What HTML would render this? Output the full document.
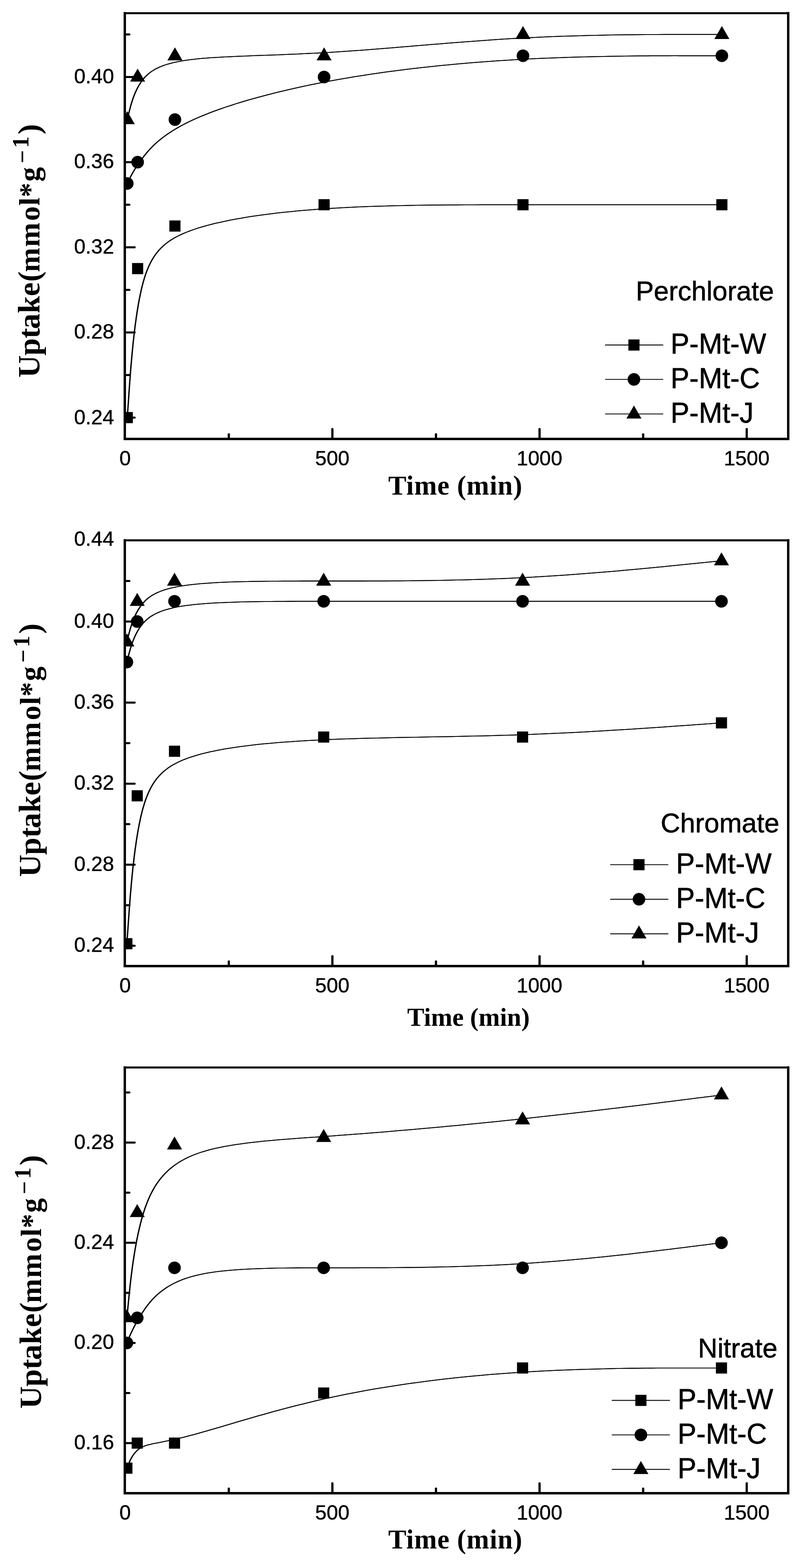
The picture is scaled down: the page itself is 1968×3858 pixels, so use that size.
<!DOCTYPE html>
<html lang="en"><head><meta charset="utf-8"><title>Uptake kinetics</title>
<style>html,body{margin:0;padding:0;background:#fff}body{width:1968px;height:3858px;overflow:hidden}svg{display:block}.tk{font-family:"Liberation Sans",Arial,sans-serif;font-size:50.5px;fill:#000;stroke:#000;stroke-width:0.6px}.lg{font-family:"Liberation Sans",Arial,sans-serif;font-size:69.5px;fill:#000;stroke:#000;stroke-width:0.8px}.xt{font-family:"Liberation Serif","Times New Roman",serif;font-weight:bold;fill:#000}.yt{font-family:"Liberation Serif","Times New Roman",serif;font-weight:bold;font-size:79.0px;fill:#000}</style></head><body>
<svg width="1968" height="3858" viewBox="0 0 1968 3858">
<rect width="1968" height="3858" fill="#fff"/>
<g id="chart1">
<g fill="none" stroke="#000" stroke-width="2.05" stroke-linejoin="round" stroke-linecap="round">
<path d="M313.1,1027.5 L313.1,1027.5 L313.1,1027.5 L313.1,1027.4 L313.1,1027.2 L313.1,1026.9 L313.2,1026.5 L313.2,1026.0 L313.3,1025.2 L313.3,1024.3 L313.4,1023.1 L313.5,1021.6 L313.6,1019.9 L313.8,1017.8 L313.9,1015.4 L314.1,1012.6 L314.4,1009.4 L314.6,1005.8 L314.9,1001.7 L315.2,997.2 L315.6,992.1 L315.9,986.6 L316.4,980.4 L316.8,973.7 L317.3,966.4 L317.9,958.4 L318.5,949.9 L319.1,940.8 L319.9,931.2 L320.6,921.2 L321.4,910.7 L322.3,899.9 L323.3,888.8 L324.3,877.4 L325.4,865.8 L326.5,854.0 L327.7,842.0 L329.1,830.0 L330.5,817.9 L331.9,805.8 L333.5,793.8 L335.2,781.8 L336.9,770.0 L338.8,758.4 L340.7,747.0 L342.8,735.8 L345.0,725.0 L347.2,714.6 L349.6,704.5 L352.1,694.9 L354.8,685.8 L357.5,677.0 L360.5,668.7 L363.6,660.8 L366.9,653.2 L370.4,646.1 L374.1,639.2 L378.1,632.7 L382.3,626.5 L386.8,620.6 L391.6,615.0 L396.6,609.7 L402.0,604.7 L407.7,599.8 L413.7,595.2 L420.1,590.9 L426.9,586.7 L434.1,582.7 L441.6,578.8 L449.6,575.2 L458.0,571.6 L466.9,568.2 L476.2,564.9 L486.0,561.6 L496.2,558.5 L507.0,555.4 L518.1,552.5 L529.7,549.6 L541.7,546.9 L554.1,544.2 L567.0,541.6 L580.2,539.1 L593.8,536.7 L607.8,534.3 L622.1,532.1 L636.7,530.0 L651.7,527.9 L667.1,526.0 L682.7,524.1 L698.6,522.3 L714.8,520.7 L731.3,519.1 L748.1,517.6 L765.1,516.2 L782.4,514.8 L799.9,513.6 L817.7,512.5 L835.6,511.4 L853.7,510.5 L872.1,509.6 L890.6,508.8 L909.3,508.1 L928.2,507.4 L947.2,506.9 L966.4,506.3 L985.7,505.9 L1005.2,505.5 L1024.7,505.1 L1044.4,504.8 L1064.2,504.6 L1084.1,504.4 L1104.1,504.2 L1124.2,504.1 L1144.3,504.0 L1164.5,503.9 L1184.8,503.8 L1205.1,503.8 L1225.4,503.8 L1245.8,503.8 L1266.1,503.8 L1286.5,503.8 L1306.9,503.8 L1327.3,503.8 L1347.5,503.8 L1367.7,503.8 L1387.7,503.8 L1407.6,503.8 L1427.2,503.8 L1446.6,503.8 L1465.7,503.8 L1484.5,503.8 L1502.9,503.8 L1521.0,503.8 L1538.6,503.8 L1555.7,503.8 L1572.4,503.8 L1588.5,503.8 L1604.1,503.7 L1619.1,503.8 L1633.4,503.8 L1647.1,503.8 L1660.0,503.8 L1672.2,503.8 L1683.6,503.8 L1694.2,503.8 L1704.0,503.8 L1713.0,503.8 L1721.2,503.8 L1728.6,503.8 L1735.3,503.8 L1741.4,503.8 L1746.8,503.8 L1751.6,503.8 L1755.9,503.8 L1759.6,503.8 L1762.8,503.8 L1765.6,503.8 L1767.9,503.8 L1769.9,503.8 L1771.5,503.8 L1772.8,503.8 L1773.8,503.7 L1774.5,503.8 L1775.1,503.8 L1775.4,503.8 L1775.6,503.8 L1775.7,503.8 L1775.8,503.8 L1775.8,503.8" transform="translate(-0.65,0)"/>
<path d="M313.1,1027.5 L313.1,1027.5 L313.1,1027.5 L313.1,1027.4 L313.1,1027.2 L313.1,1026.9 L313.2,1026.5 L313.2,1026.0 L313.3,1025.2 L313.3,1024.3 L313.4,1023.1 L313.5,1021.6 L313.6,1019.9 L313.8,1017.8 L313.9,1015.4 L314.1,1012.6 L314.4,1009.4 L314.6,1005.8 L314.9,1001.7 L315.2,997.2 L315.6,992.1 L315.9,986.6 L316.4,980.4 L316.8,973.7 L317.3,966.4 L317.9,958.4 L318.5,949.9 L319.1,940.8 L319.9,931.2 L320.6,921.2 L321.4,910.7 L322.3,899.9 L323.3,888.8 L324.3,877.4 L325.4,865.8 L326.5,854.0 L327.7,842.0 L329.1,830.0 L330.5,817.9 L331.9,805.8 L333.5,793.8 L335.2,781.8 L336.9,770.0 L338.8,758.4 L340.7,747.0 L342.8,735.8 L345.0,725.0 L347.2,714.6 L349.6,704.5 L352.1,694.9 L354.8,685.8 L357.5,677.0 L360.5,668.7 L363.6,660.8 L366.9,653.2 L370.4,646.1 L374.1,639.2 L378.1,632.7 L382.3,626.5 L386.8,620.6 L391.6,615.0 L396.6,609.7 L402.0,604.7 L407.7,599.8 L413.7,595.2 L420.1,590.9 L426.9,586.7 L434.1,582.7 L441.6,578.8 L449.6,575.2 L458.0,571.6 L466.9,568.2 L476.2,564.9 L486.0,561.6 L496.2,558.5 L507.0,555.4 L518.1,552.5 L529.7,549.6 L541.7,546.9 L554.1,544.2 L567.0,541.6 L580.2,539.1 L593.8,536.7 L607.8,534.3 L622.1,532.1 L636.7,530.0 L651.7,527.9 L667.1,526.0 L682.7,524.1 L698.6,522.3 L714.8,520.7 L731.3,519.1 L748.1,517.6 L765.1,516.2 L782.4,514.8 L799.9,513.6 L817.7,512.5 L835.6,511.4 L853.7,510.5 L872.1,509.6 L890.6,508.8 L909.3,508.1 L928.2,507.4 L947.2,506.9 L966.4,506.3 L985.7,505.9 L1005.2,505.5 L1024.7,505.1 L1044.4,504.8 L1064.2,504.6 L1084.1,504.4 L1104.1,504.2 L1124.2,504.1 L1144.3,504.0 L1164.5,503.9 L1184.8,503.8 L1205.1,503.8 L1225.4,503.8 L1245.8,503.8 L1266.1,503.8 L1286.5,503.8 L1306.9,503.8 L1327.3,503.8 L1347.5,503.8 L1367.7,503.8 L1387.7,503.8 L1407.6,503.8 L1427.2,503.8 L1446.6,503.8 L1465.7,503.8 L1484.5,503.8 L1502.9,503.8 L1521.0,503.8 L1538.6,503.8 L1555.7,503.8 L1572.4,503.8 L1588.5,503.8 L1604.1,503.7 L1619.1,503.8 L1633.4,503.8 L1647.1,503.8 L1660.0,503.8 L1672.2,503.8 L1683.6,503.8 L1694.2,503.8 L1704.0,503.8 L1713.0,503.8 L1721.2,503.8 L1728.6,503.8 L1735.3,503.8 L1741.4,503.8 L1746.8,503.8 L1751.6,503.8 L1755.9,503.8 L1759.6,503.8 L1762.8,503.8 L1765.6,503.8 L1767.9,503.8 L1769.9,503.8 L1771.5,503.8 L1772.8,503.8 L1773.8,503.7 L1774.5,503.8 L1775.1,503.8 L1775.4,503.8 L1775.6,503.8 L1775.7,503.8 L1775.8,503.8 L1775.8,503.8" transform="translate(0.65,0)"/>
<path d="M313.1,451.4 L313.1,451.4 L313.1,451.4 L313.1,451.4 L313.1,451.3 L313.1,451.3 L313.2,451.2 L313.2,451.2 L313.3,451.1 L313.3,450.9 L313.4,450.7 L313.5,450.5 L313.6,450.3 L313.8,450.0 L313.9,449.6 L314.1,449.2 L314.4,448.8 L314.6,448.3 L314.9,447.7 L315.2,447.0 L315.6,446.3 L315.9,445.5 L316.4,444.7 L316.8,443.7 L317.3,442.6 L317.9,441.5 L318.5,440.3 L319.1,439.0 L319.9,437.6 L320.6,436.1 L321.4,434.5 L322.3,432.8 L323.3,431.0 L324.3,429.1 L325.4,427.2 L326.5,425.1 L327.7,423.0 L329.1,420.8 L330.5,418.5 L331.9,416.0 L333.5,413.5 L335.2,411.0 L336.9,408.3 L338.8,405.5 L340.7,402.6 L342.8,399.7 L345.0,396.6 L347.2,393.5 L349.6,390.3 L352.1,387.0 L354.8,383.5 L357.5,380.1 L360.5,376.5 L363.6,372.8 L366.9,369.1 L370.4,365.3 L374.1,361.5 L378.1,357.6 L382.3,353.6 L386.8,349.6 L391.6,345.5 L396.6,341.4 L402.0,337.3 L407.7,333.1 L413.7,328.8 L420.1,324.6 L426.9,320.3 L434.1,316.0 L441.6,311.7 L449.6,307.3 L458.0,303.0 L466.9,298.6 L476.2,294.3 L486.0,289.9 L496.2,285.5 L507.0,281.2 L518.1,276.8 L529.7,272.5 L541.7,268.2 L554.1,263.9 L567.0,259.7 L580.2,255.4 L593.8,251.2 L607.8,247.1 L622.1,243.0 L636.7,238.9 L651.7,234.9 L667.1,230.9 L682.7,227.0 L698.6,223.2 L714.8,219.4 L731.3,215.7 L748.1,212.0 L765.1,208.4 L782.4,205.0 L799.9,201.5 L817.7,198.2 L835.6,195.0 L853.7,191.9 L872.1,188.8 L890.6,185.9 L909.3,183.0 L928.2,180.2 L947.2,177.5 L966.4,175.0 L985.7,172.5 L1005.2,170.0 L1024.7,167.7 L1044.4,165.5 L1064.2,163.4 L1084.1,161.3 L1104.1,159.4 L1124.2,157.5 L1144.3,155.7 L1164.5,154.0 L1184.8,152.4 L1205.1,150.9 L1225.4,149.5 L1245.8,148.2 L1266.1,147.0 L1286.5,145.9 L1306.9,144.8 L1327.3,143.8 L1347.5,143.0 L1367.7,142.2 L1387.7,141.5 L1407.6,140.8 L1427.2,140.2 L1446.6,139.7 L1465.7,139.3 L1484.5,138.9 L1502.9,138.5 L1521.0,138.2 L1538.6,138.0 L1555.7,137.8 L1572.4,137.6 L1588.5,137.4 L1604.1,137.3 L1619.1,137.3 L1633.4,137.2 L1647.1,137.2 L1660.0,137.1 L1672.2,137.1 L1683.6,137.1 L1694.2,137.1 L1704.0,137.1 L1713.0,137.1 L1721.2,137.1 L1728.6,137.1 L1735.3,137.1 L1741.4,137.1 L1746.8,137.1 L1751.6,137.1 L1755.9,137.1 L1759.6,137.1 L1762.8,137.1 L1765.6,137.1 L1767.9,137.1 L1769.9,137.1 L1771.5,137.1 L1772.8,137.1 L1773.8,137.1 L1774.5,137.1 L1775.1,137.1 L1775.4,137.1 L1775.6,137.1 L1775.7,137.1 L1775.8,137.1 L1775.8,137.1" transform="translate(-0.65,0)"/>
<path d="M313.1,451.4 L313.1,451.4 L313.1,451.4 L313.1,451.4 L313.1,451.3 L313.1,451.3 L313.2,451.2 L313.2,451.2 L313.3,451.1 L313.3,450.9 L313.4,450.7 L313.5,450.5 L313.6,450.3 L313.8,450.0 L313.9,449.6 L314.1,449.2 L314.4,448.8 L314.6,448.3 L314.9,447.7 L315.2,447.0 L315.6,446.3 L315.9,445.5 L316.4,444.7 L316.8,443.7 L317.3,442.6 L317.9,441.5 L318.5,440.3 L319.1,439.0 L319.9,437.6 L320.6,436.1 L321.4,434.5 L322.3,432.8 L323.3,431.0 L324.3,429.1 L325.4,427.2 L326.5,425.1 L327.7,423.0 L329.1,420.8 L330.5,418.5 L331.9,416.0 L333.5,413.5 L335.2,411.0 L336.9,408.3 L338.8,405.5 L340.7,402.6 L342.8,399.7 L345.0,396.6 L347.2,393.5 L349.6,390.3 L352.1,387.0 L354.8,383.5 L357.5,380.1 L360.5,376.5 L363.6,372.8 L366.9,369.1 L370.4,365.3 L374.1,361.5 L378.1,357.6 L382.3,353.6 L386.8,349.6 L391.6,345.5 L396.6,341.4 L402.0,337.3 L407.7,333.1 L413.7,328.8 L420.1,324.6 L426.9,320.3 L434.1,316.0 L441.6,311.7 L449.6,307.3 L458.0,303.0 L466.9,298.6 L476.2,294.3 L486.0,289.9 L496.2,285.5 L507.0,281.2 L518.1,276.8 L529.7,272.5 L541.7,268.2 L554.1,263.9 L567.0,259.7 L580.2,255.4 L593.8,251.2 L607.8,247.1 L622.1,243.0 L636.7,238.9 L651.7,234.9 L667.1,230.9 L682.7,227.0 L698.6,223.2 L714.8,219.4 L731.3,215.7 L748.1,212.0 L765.1,208.4 L782.4,205.0 L799.9,201.5 L817.7,198.2 L835.6,195.0 L853.7,191.9 L872.1,188.8 L890.6,185.9 L909.3,183.0 L928.2,180.2 L947.2,177.5 L966.4,175.0 L985.7,172.5 L1005.2,170.0 L1024.7,167.7 L1044.4,165.5 L1064.2,163.4 L1084.1,161.3 L1104.1,159.4 L1124.2,157.5 L1144.3,155.7 L1164.5,154.0 L1184.8,152.4 L1205.1,150.9 L1225.4,149.5 L1245.8,148.2 L1266.1,147.0 L1286.5,145.9 L1306.9,144.8 L1327.3,143.8 L1347.5,143.0 L1367.7,142.2 L1387.7,141.5 L1407.6,140.8 L1427.2,140.2 L1446.6,139.7 L1465.7,139.3 L1484.5,138.9 L1502.9,138.5 L1521.0,138.2 L1538.6,138.0 L1555.7,137.8 L1572.4,137.6 L1588.5,137.4 L1604.1,137.3 L1619.1,137.3 L1633.4,137.2 L1647.1,137.2 L1660.0,137.1 L1672.2,137.1 L1683.6,137.1 L1694.2,137.1 L1704.0,137.1 L1713.0,137.1 L1721.2,137.1 L1728.6,137.1 L1735.3,137.1 L1741.4,137.1 L1746.8,137.1 L1751.6,137.1 L1755.9,137.1 L1759.6,137.1 L1762.8,137.1 L1765.6,137.1 L1767.9,137.1 L1769.9,137.1 L1771.5,137.1 L1772.8,137.1 L1773.8,137.1 L1774.5,137.1 L1775.1,137.1 L1775.4,137.1 L1775.6,137.1 L1775.7,137.1 L1775.8,137.1 L1775.8,137.1" transform="translate(0.65,0)"/>
<path d="M313.1,294.3 L313.1,294.2 L313.1,294.2 L313.1,294.2 L313.1,294.2 L313.1,294.1 L313.2,294.0 L313.2,293.8 L313.3,293.6 L313.3,293.3 L313.4,293.0 L313.5,292.6 L313.6,292.1 L313.8,291.5 L313.9,290.8 L314.1,290.0 L314.4,289.1 L314.6,288.0 L314.9,286.9 L315.2,285.6 L315.6,284.1 L315.9,282.6 L316.4,280.8 L316.8,278.9 L317.3,276.8 L317.9,274.5 L318.5,272.1 L319.1,269.5 L319.9,266.7 L320.6,263.8 L321.4,260.8 L322.3,257.7 L323.3,254.5 L324.3,251.2 L325.4,247.8 L326.5,244.3 L327.7,240.8 L329.1,237.2 L330.5,233.6 L331.9,230.0 L333.5,226.4 L335.2,222.7 L336.9,219.1 L338.8,215.5 L340.7,211.9 L342.8,208.4 L345.0,204.9 L347.2,201.5 L349.6,198.2 L352.1,195.0 L354.8,191.9 L357.5,188.8 L360.5,185.9 L363.6,183.0 L366.9,180.2 L370.4,177.5 L374.1,175.0 L378.1,172.5 L382.3,170.0 L386.8,167.7 L391.6,165.5 L396.6,163.4 L402.0,161.3 L407.7,159.4 L413.7,157.5 L420.1,155.7 L426.9,154.0 L434.1,152.4 L441.6,150.9 L449.6,149.5 L458.0,148.2 L466.9,147.0 L476.2,145.9 L486.0,144.8 L496.2,143.8 L507.0,143.0 L518.1,142.1 L529.7,141.4 L541.7,140.7 L554.1,140.0 L567.0,139.4 L580.2,138.8 L593.8,138.2 L607.8,137.7 L622.1,137.1 L636.7,136.6 L651.7,136.0 L667.1,135.5 L682.7,134.9 L698.6,134.2 L714.8,133.6 L731.3,132.9 L748.1,132.1 L765.1,131.3 L782.4,130.4 L799.9,129.4 L817.7,128.4 L835.6,127.3 L853.7,126.0 L872.1,124.7 L890.6,123.4 L909.3,122.0 L928.2,120.5 L947.2,119.0 L966.4,117.4 L985.7,115.8 L1005.2,114.2 L1024.7,112.6 L1044.4,110.9 L1064.2,109.3 L1084.1,107.7 L1104.1,106.1 L1124.2,104.5 L1144.3,102.9 L1164.5,101.4 L1184.8,99.9 L1205.1,98.5 L1225.4,97.1 L1245.8,95.8 L1266.1,94.6 L1286.5,93.5 L1306.9,92.4 L1327.3,91.5 L1347.5,90.6 L1367.7,89.8 L1387.7,89.1 L1407.6,88.4 L1427.2,87.9 L1446.6,87.3 L1465.7,86.9 L1484.5,86.5 L1502.9,86.1 L1521.0,85.8 L1538.6,85.6 L1555.7,85.4 L1572.4,85.2 L1588.5,85.1 L1604.1,85.0 L1619.1,84.9 L1633.4,84.8 L1647.1,84.8 L1660.0,84.8 L1672.2,84.8 L1683.6,84.8 L1694.2,84.8 L1704.0,84.8 L1713.0,84.8 L1721.2,84.8 L1728.6,84.8 L1735.3,84.8 L1741.4,84.8 L1746.8,84.8 L1751.6,84.8 L1755.9,84.8 L1759.6,84.8 L1762.8,84.8 L1765.6,84.8 L1767.9,84.8 L1769.9,84.8 L1771.5,84.8 L1772.8,84.8 L1773.8,84.8 L1774.5,84.8 L1775.1,84.8 L1775.4,84.8 L1775.6,84.8 L1775.7,84.8 L1775.8,84.8 L1775.8,84.8" transform="translate(-0.65,0)"/>
<path d="M313.1,294.3 L313.1,294.2 L313.1,294.2 L313.1,294.2 L313.1,294.2 L313.1,294.1 L313.2,294.0 L313.2,293.8 L313.3,293.6 L313.3,293.3 L313.4,293.0 L313.5,292.6 L313.6,292.1 L313.8,291.5 L313.9,290.8 L314.1,290.0 L314.4,289.1 L314.6,288.0 L314.9,286.9 L315.2,285.6 L315.6,284.1 L315.9,282.6 L316.4,280.8 L316.8,278.9 L317.3,276.8 L317.9,274.5 L318.5,272.1 L319.1,269.5 L319.9,266.7 L320.6,263.8 L321.4,260.8 L322.3,257.7 L323.3,254.5 L324.3,251.2 L325.4,247.8 L326.5,244.3 L327.7,240.8 L329.1,237.2 L330.5,233.6 L331.9,230.0 L333.5,226.4 L335.2,222.7 L336.9,219.1 L338.8,215.5 L340.7,211.9 L342.8,208.4 L345.0,204.9 L347.2,201.5 L349.6,198.2 L352.1,195.0 L354.8,191.9 L357.5,188.8 L360.5,185.9 L363.6,183.0 L366.9,180.2 L370.4,177.5 L374.1,175.0 L378.1,172.5 L382.3,170.0 L386.8,167.7 L391.6,165.5 L396.6,163.4 L402.0,161.3 L407.7,159.4 L413.7,157.5 L420.1,155.7 L426.9,154.0 L434.1,152.4 L441.6,150.9 L449.6,149.5 L458.0,148.2 L466.9,147.0 L476.2,145.9 L486.0,144.8 L496.2,143.8 L507.0,143.0 L518.1,142.1 L529.7,141.4 L541.7,140.7 L554.1,140.0 L567.0,139.4 L580.2,138.8 L593.8,138.2 L607.8,137.7 L622.1,137.1 L636.7,136.6 L651.7,136.0 L667.1,135.5 L682.7,134.9 L698.6,134.2 L714.8,133.6 L731.3,132.9 L748.1,132.1 L765.1,131.3 L782.4,130.4 L799.9,129.4 L817.7,128.4 L835.6,127.3 L853.7,126.0 L872.1,124.7 L890.6,123.4 L909.3,122.0 L928.2,120.5 L947.2,119.0 L966.4,117.4 L985.7,115.8 L1005.2,114.2 L1024.7,112.6 L1044.4,110.9 L1064.2,109.3 L1084.1,107.7 L1104.1,106.1 L1124.2,104.5 L1144.3,102.9 L1164.5,101.4 L1184.8,99.9 L1205.1,98.5 L1225.4,97.1 L1245.8,95.8 L1266.1,94.6 L1286.5,93.5 L1306.9,92.4 L1327.3,91.5 L1347.5,90.6 L1367.7,89.8 L1387.7,89.1 L1407.6,88.4 L1427.2,87.9 L1446.6,87.3 L1465.7,86.9 L1484.5,86.5 L1502.9,86.1 L1521.0,85.8 L1538.6,85.6 L1555.7,85.4 L1572.4,85.2 L1588.5,85.1 L1604.1,85.0 L1619.1,84.9 L1633.4,84.8 L1647.1,84.8 L1660.0,84.8 L1672.2,84.8 L1683.6,84.8 L1694.2,84.8 L1704.0,84.8 L1713.0,84.8 L1721.2,84.8 L1728.6,84.8 L1735.3,84.8 L1741.4,84.8 L1746.8,84.8 L1751.6,84.8 L1755.9,84.8 L1759.6,84.8 L1762.8,84.8 L1765.6,84.8 L1767.9,84.8 L1769.9,84.8 L1771.5,84.8 L1772.8,84.8 L1773.8,84.8 L1774.5,84.8 L1775.1,84.8 L1775.4,84.8 L1775.6,84.8 L1775.7,84.8 L1775.8,84.8 L1775.8,84.8" transform="translate(0.65,0)"/>
</g>
<g stroke="#000" stroke-width="5.0" stroke-linecap="round">
<line x1="307.00" y1="1027.50" x2="331.25" y2="1027.50"/>
<line x1="307.00" y1="818.00" x2="331.25" y2="818.00"/>
<line x1="307.00" y1="608.50" x2="331.25" y2="608.50"/>
<line x1="307.00" y1="399.00" x2="331.25" y2="399.00"/>
<line x1="307.00" y1="189.50" x2="331.25" y2="189.50"/>
<line x1="307.00" y1="922.75" x2="318.25" y2="922.75"/>
<line x1="307.00" y1="713.25" x2="318.25" y2="713.25"/>
<line x1="307.00" y1="503.75" x2="318.25" y2="503.75"/>
<line x1="307.00" y1="294.25" x2="318.25" y2="294.25"/>
<line x1="307.00" y1="84.75" x2="318.25" y2="84.75"/>
</g>
<g stroke="#000" stroke-width="5.50" stroke-linecap="round">
<line x1="817.65" y1="1080.00" x2="817.65" y2="1055.75"/>
<line x1="1327.30" y1="1080.00" x2="1327.30" y2="1055.75"/>
<line x1="1836.95" y1="1080.00" x2="1836.95" y2="1055.75"/>
<line x1="562.83" y1="1080.00" x2="562.83" y2="1068.75"/>
<line x1="1072.47" y1="1080.00" x2="1072.47" y2="1068.75"/>
<line x1="1582.13" y1="1080.00" x2="1582.13" y2="1068.75"/>
</g>
<g stroke="#000" stroke-linecap="square" fill="none"><line x1="307.00" y1="32.50" x2="1939.00" y2="32.50" stroke-width="5.2"/><path d="M307.00,32.50 V1080.00 H1939.00 V32.50" stroke-width="5.90" stroke-linejoin="miter"/></g>
<clipPath id="cp0"><rect x="307.00" y="32.50" width="1632.00" height="1047.50"/></clipPath>
<g fill="#000" clip-path="url(#cp0)">
<rect x="299.40" y="1013.80" width="27.40" height="27.40"/>
<rect x="324.88" y="647.18" width="27.40" height="27.40"/>
<rect x="416.62" y="542.42" width="27.40" height="27.40"/>
<rect x="783.56" y="490.05" width="27.40" height="27.40"/>
<rect x="1272.83" y="490.05" width="27.40" height="27.40"/>
<rect x="1762.09" y="490.05" width="27.40" height="27.40"/>
<circle cx="313.10" cy="451.38" r="15.50"/>
<circle cx="338.58" cy="399.00" r="15.50"/>
<circle cx="430.32" cy="294.25" r="15.50"/>
<circle cx="797.26" cy="189.50" r="15.50"/>
<circle cx="1286.53" cy="137.13" r="15.50"/>
<circle cx="1775.79" cy="137.13" r="15.50"/>
<polygon points="313.10,273.52 294.60,305.52 331.60,305.52"/>
<polygon points="338.58,168.77 320.08,200.77 357.08,200.77"/>
<polygon points="430.32,116.39 411.82,148.39 448.82,148.39"/>
<polygon points="797.26,116.39 778.76,148.39 815.76,148.39"/>
<polygon points="1286.53,64.02 1268.03,96.02 1305.03,96.02"/>
<polygon points="1775.79,64.02 1757.29,96.02 1794.29,96.02"/>
</g>
<text class="tk" x="280.5" y="1043.5" text-anchor="end">0.24</text>
<text class="tk" x="280.5" y="833.2" text-anchor="end">0.28</text>
<text class="tk" x="280.5" y="623.7" text-anchor="end">0.32</text>
<text class="tk" x="280.5" y="414.2" text-anchor="end">0.36</text>
<text class="tk" x="280.5" y="204.7" text-anchor="end">0.40</text>
<text class="tk" x="307.8" y="1145.0" text-anchor="middle">0</text>
<text class="tk" x="817.5" y="1145.0" text-anchor="middle">500</text>
<text class="tk" x="1327.1" y="1145.0" text-anchor="middle">1000</text>
<text class="tk" x="1836.8" y="1145.0" text-anchor="middle">1500</text>
<text class="xt" x="954.9" y="1217.1" font-size="67.0" letter-spacing="1.00">Time (min)</text>
<text class="yt" transform="translate(96.6,0) rotate(-90)" y="0"><tspan x="-929.2 -874.8 -832.4 -809.4 -771.0 -728.8 -693.2" dy="-0.0 -0.0 -0.0 -0.0 -0.0 -0.0 -0.0" font-size="76.5">Uptake(</tspan><tspan x="-669.4 -607.8 -543.4 -506.0 -485.4 -447.1" dy="-0.0 -0.0 -0.0 -0.0 -0.0 -0.0" font-size="72.0">mmol*g</tspan><tspan x="-401.8 -363.9" dy="-22.8 -3.9" font-size="57.0">−1</tspan><tspan x="-330.8" dy="26.7" font-size="77.0">)</tspan></text>
<text class="lg" x="1904.0" y="738.8" text-anchor="end" style="font-size:66.5px">Perchlorate</text>
<line x1="1488.5" y1="848.9" x2="1631.5" y2="848.9" stroke="#000" stroke-width="2.20"/>
<g fill="#000"><rect x="1545.80" y="835.20" width="27.40" height="27.40"/></g>
<text class="lg" x="1649.5" y="870.1">P-Mt-W</text>
<line x1="1488.5" y1="933.5" x2="1631.5" y2="933.5" stroke="#000" stroke-width="2.20"/>
<g fill="#000"><circle cx="1559.50" cy="933.50" r="15.50"/></g>
<text class="lg" x="1649.5" y="954.7">P-Mt-C</text>
<line x1="1488.5" y1="1018.5" x2="1631.5" y2="1018.5" stroke="#000" stroke-width="2.20"/>
<g fill="#000"><polygon points="1559.50,997.87 1541.00,1029.87 1578.00,1029.87"/></g>
<text class="lg" x="1649.5" y="1039.7">P-Mt-J</text>
</g>
<g id="chart2">
<g fill="none" stroke="#000" stroke-width="2.05" stroke-linejoin="round" stroke-linecap="round">
<path d="M312.1,2322.0 L312.1,2322.0 L312.1,2322.0 L312.1,2321.9 L312.1,2321.7 L312.1,2321.5 L312.2,2321.1 L312.2,2320.5 L312.3,2319.8 L312.3,2318.8 L312.4,2317.6 L312.5,2316.2 L312.6,2314.4 L312.8,2312.4 L312.9,2310.0 L313.1,2307.2 L313.4,2304.0 L313.6,2300.5 L313.9,2296.4 L314.2,2291.9 L314.6,2286.9 L314.9,2281.4 L315.4,2275.3 L315.8,2268.6 L316.3,2261.4 L316.9,2253.5 L317.5,2245.0 L318.1,2236.0 L318.9,2226.5 L319.6,2216.5 L320.4,2206.1 L321.3,2195.4 L322.3,2184.3 L323.3,2173.0 L324.4,2161.4 L325.5,2149.6 L326.7,2137.8 L328.1,2125.8 L329.5,2113.7 L330.9,2101.7 L332.5,2089.7 L334.2,2077.8 L335.9,2066.0 L337.8,2054.4 L339.7,2043.0 L341.8,2031.8 L344.0,2021.0 L346.2,2010.5 L348.6,2000.4 L351.1,1990.8 L353.8,1981.6 L356.5,1972.8 L359.5,1964.4 L362.6,1956.4 L365.9,1948.7 L369.4,1941.5 L373.1,1934.5 L377.1,1927.9 L381.3,1921.7 L385.8,1915.7 L390.6,1910.1 L395.6,1904.7 L401.0,1899.6 L406.7,1894.8 L412.7,1890.2 L419.1,1885.9 L425.9,1881.7 L433.1,1877.8 L440.6,1874.1 L448.6,1870.5 L457.0,1867.2 L465.9,1863.9 L475.2,1860.9 L485.0,1857.9 L495.2,1855.1 L506.0,1852.4 L517.1,1849.8 L528.7,1847.4 L540.7,1845.0 L553.1,1842.8 L566.0,1840.7 L579.2,1838.7 L592.8,1836.7 L606.8,1834.9 L621.1,1833.2 L635.7,1831.6 L650.7,1830.1 L666.1,1828.7 L681.7,1827.3 L697.6,1826.0 L713.8,1824.9 L730.3,1823.8 L747.1,1822.7 L764.1,1821.8 L781.4,1820.9 L798.9,1820.1 L816.7,1819.3 L834.6,1818.6 L852.7,1818.0 L871.1,1817.4 L889.6,1816.8 L908.3,1816.3 L927.2,1815.9 L946.2,1815.4 L965.4,1815.0 L984.7,1814.6 L1004.2,1814.2 L1023.7,1813.9 L1043.4,1813.5 L1063.2,1813.1 L1083.1,1812.8 L1103.1,1812.4 L1123.2,1812.0 L1143.3,1811.6 L1163.5,1811.1 L1183.8,1810.7 L1204.1,1810.2 L1224.4,1809.6 L1244.8,1809.0 L1265.1,1808.4 L1285.5,1807.7 L1305.9,1806.9 L1326.3,1806.1 L1346.5,1805.2 L1366.7,1804.3 L1386.7,1803.4 L1406.6,1802.4 L1426.2,1801.4 L1445.6,1800.4 L1464.7,1799.3 L1483.5,1798.2 L1501.9,1797.1 L1520.0,1796.0 L1537.6,1795.0 L1554.7,1793.9 L1571.4,1792.8 L1587.5,1791.7 L1603.1,1790.7 L1618.1,1789.7 L1632.4,1788.7 L1646.1,1787.8 L1659.0,1786.8 L1671.2,1786.0 L1682.6,1785.2 L1693.2,1784.4 L1703.0,1783.7 L1712.0,1783.1 L1720.2,1782.5 L1727.6,1782.0 L1734.3,1781.5 L1740.4,1781.0 L1745.8,1780.7 L1750.6,1780.3 L1754.9,1780.0 L1758.6,1779.7 L1761.8,1779.5 L1764.6,1779.3 L1766.9,1779.2 L1768.9,1779.0 L1770.5,1778.9 L1771.8,1778.8 L1772.8,1778.7 L1773.5,1778.7 L1774.1,1778.6 L1774.4,1778.6 L1774.6,1778.6 L1774.7,1778.6 L1774.8,1778.6 L1774.8,1778.6" transform="translate(-0.65,0)"/>
<path d="M312.1,2322.0 L312.1,2322.0 L312.1,2322.0 L312.1,2321.9 L312.1,2321.7 L312.1,2321.5 L312.2,2321.1 L312.2,2320.5 L312.3,2319.8 L312.3,2318.8 L312.4,2317.6 L312.5,2316.2 L312.6,2314.4 L312.8,2312.4 L312.9,2310.0 L313.1,2307.2 L313.4,2304.0 L313.6,2300.5 L313.9,2296.4 L314.2,2291.9 L314.6,2286.9 L314.9,2281.4 L315.4,2275.3 L315.8,2268.6 L316.3,2261.4 L316.9,2253.5 L317.5,2245.0 L318.1,2236.0 L318.9,2226.5 L319.6,2216.5 L320.4,2206.1 L321.3,2195.4 L322.3,2184.3 L323.3,2173.0 L324.4,2161.4 L325.5,2149.6 L326.7,2137.8 L328.1,2125.8 L329.5,2113.7 L330.9,2101.7 L332.5,2089.7 L334.2,2077.8 L335.9,2066.0 L337.8,2054.4 L339.7,2043.0 L341.8,2031.8 L344.0,2021.0 L346.2,2010.5 L348.6,2000.4 L351.1,1990.8 L353.8,1981.6 L356.5,1972.8 L359.5,1964.4 L362.6,1956.4 L365.9,1948.7 L369.4,1941.5 L373.1,1934.5 L377.1,1927.9 L381.3,1921.7 L385.8,1915.7 L390.6,1910.1 L395.6,1904.7 L401.0,1899.6 L406.7,1894.8 L412.7,1890.2 L419.1,1885.9 L425.9,1881.7 L433.1,1877.8 L440.6,1874.1 L448.6,1870.5 L457.0,1867.2 L465.9,1863.9 L475.2,1860.9 L485.0,1857.9 L495.2,1855.1 L506.0,1852.4 L517.1,1849.8 L528.7,1847.4 L540.7,1845.0 L553.1,1842.8 L566.0,1840.7 L579.2,1838.7 L592.8,1836.7 L606.8,1834.9 L621.1,1833.2 L635.7,1831.6 L650.7,1830.1 L666.1,1828.7 L681.7,1827.3 L697.6,1826.0 L713.8,1824.9 L730.3,1823.8 L747.1,1822.7 L764.1,1821.8 L781.4,1820.9 L798.9,1820.1 L816.7,1819.3 L834.6,1818.6 L852.7,1818.0 L871.1,1817.4 L889.6,1816.8 L908.3,1816.3 L927.2,1815.9 L946.2,1815.4 L965.4,1815.0 L984.7,1814.6 L1004.2,1814.2 L1023.7,1813.9 L1043.4,1813.5 L1063.2,1813.1 L1083.1,1812.8 L1103.1,1812.4 L1123.2,1812.0 L1143.3,1811.6 L1163.5,1811.1 L1183.8,1810.7 L1204.1,1810.2 L1224.4,1809.6 L1244.8,1809.0 L1265.1,1808.4 L1285.5,1807.7 L1305.9,1806.9 L1326.3,1806.1 L1346.5,1805.2 L1366.7,1804.3 L1386.7,1803.4 L1406.6,1802.4 L1426.2,1801.4 L1445.6,1800.4 L1464.7,1799.3 L1483.5,1798.2 L1501.9,1797.1 L1520.0,1796.0 L1537.6,1795.0 L1554.7,1793.9 L1571.4,1792.8 L1587.5,1791.7 L1603.1,1790.7 L1618.1,1789.7 L1632.4,1788.7 L1646.1,1787.8 L1659.0,1786.8 L1671.2,1786.0 L1682.6,1785.2 L1693.2,1784.4 L1703.0,1783.7 L1712.0,1783.1 L1720.2,1782.5 L1727.6,1782.0 L1734.3,1781.5 L1740.4,1781.0 L1745.8,1780.7 L1750.6,1780.3 L1754.9,1780.0 L1758.6,1779.7 L1761.8,1779.5 L1764.6,1779.3 L1766.9,1779.2 L1768.9,1779.0 L1770.5,1778.9 L1771.8,1778.8 L1772.8,1778.7 L1773.5,1778.7 L1774.1,1778.6 L1774.4,1778.6 L1774.6,1778.6 L1774.7,1778.6 L1774.8,1778.6 L1774.8,1778.6" transform="translate(0.65,0)"/>
<path d="M312.1,1629.0 L312.1,1629.0 L312.1,1629.0 L312.1,1629.0 L312.1,1629.0 L312.1,1628.9 L312.2,1628.8 L312.2,1628.6 L312.3,1628.4 L312.3,1628.2 L312.4,1627.8 L312.5,1627.4 L312.6,1627.0 L312.8,1626.4 L312.9,1625.7 L313.1,1625.0 L313.4,1624.1 L313.6,1623.1 L313.9,1622.0 L314.2,1620.8 L314.6,1619.4 L314.9,1617.9 L315.4,1616.2 L315.8,1614.4 L316.3,1612.4 L316.9,1610.2 L317.5,1607.9 L318.1,1605.4 L318.9,1602.8 L319.6,1600.1 L320.4,1597.2 L321.3,1594.2 L322.3,1591.2 L323.3,1588.0 L324.4,1584.8 L325.5,1581.5 L326.7,1578.1 L328.1,1574.7 L329.5,1571.3 L330.9,1567.9 L332.5,1564.4 L334.2,1560.9 L335.9,1557.5 L337.8,1554.1 L339.7,1550.7 L341.8,1547.3 L344.0,1544.0 L346.2,1540.8 L348.6,1537.6 L351.1,1534.6 L353.8,1531.6 L356.5,1528.7 L359.5,1525.9 L362.6,1523.1 L365.9,1520.5 L369.4,1517.9 L373.1,1515.5 L377.1,1513.1 L381.3,1510.8 L385.8,1508.6 L390.6,1506.5 L395.6,1504.4 L401.0,1502.5 L406.7,1500.6 L412.7,1498.9 L419.1,1497.2 L425.9,1495.6 L433.1,1494.0 L440.6,1492.6 L448.6,1491.3 L457.0,1490.0 L465.9,1488.9 L475.2,1487.8 L485.0,1486.8 L495.2,1485.9 L506.0,1485.0 L517.1,1484.3 L528.7,1483.6 L540.7,1483.0 L553.1,1482.4 L566.0,1481.9 L579.2,1481.5 L592.8,1481.1 L606.8,1480.8 L621.1,1480.5 L635.7,1480.3 L650.7,1480.1 L666.1,1479.9 L681.7,1479.8 L697.6,1479.7 L713.8,1479.6 L730.3,1479.5 L747.1,1479.5 L764.1,1479.5 L781.4,1479.5 L798.9,1479.5 L816.7,1479.5 L834.6,1479.5 L852.7,1479.5 L871.1,1479.5 L889.6,1479.5 L908.3,1479.5 L927.2,1479.5 L946.2,1479.5 L965.4,1479.5 L984.7,1479.5 L1004.2,1479.5 L1023.7,1479.5 L1043.4,1479.5 L1063.2,1479.5 L1083.1,1479.5 L1103.1,1479.5 L1123.2,1479.5 L1143.3,1479.5 L1163.5,1479.5 L1183.8,1479.5 L1204.1,1479.5 L1224.4,1479.5 L1244.8,1479.5 L1265.1,1479.5 L1285.5,1479.5 L1305.9,1479.5 L1326.3,1479.5 L1346.5,1479.5 L1366.7,1479.5 L1386.7,1479.5 L1406.6,1479.5 L1426.2,1479.5 L1445.6,1479.5 L1464.7,1479.5 L1483.5,1479.5 L1501.9,1479.5 L1520.0,1479.5 L1537.6,1479.5 L1554.7,1479.5 L1571.4,1479.5 L1587.5,1479.5 L1603.1,1479.5 L1618.1,1479.5 L1632.4,1479.5 L1646.1,1479.5 L1659.0,1479.5 L1671.2,1479.5 L1682.6,1479.5 L1693.2,1479.5 L1703.0,1479.5 L1712.0,1479.5 L1720.2,1479.5 L1727.6,1479.5 L1734.3,1479.5 L1740.4,1479.5 L1745.8,1479.5 L1750.6,1479.5 L1754.9,1479.5 L1758.6,1479.5 L1761.8,1479.5 L1764.6,1479.5 L1766.9,1479.5 L1768.9,1479.5 L1770.5,1479.5 L1771.8,1479.5 L1772.8,1479.5 L1773.5,1479.5 L1774.1,1479.5 L1774.4,1479.5 L1774.6,1479.5 L1774.7,1479.5 L1774.8,1479.5 L1774.8,1479.5" transform="translate(-0.65,0)"/>
<path d="M312.1,1629.0 L312.1,1629.0 L312.1,1629.0 L312.1,1629.0 L312.1,1629.0 L312.1,1628.9 L312.2,1628.8 L312.2,1628.6 L312.3,1628.4 L312.3,1628.2 L312.4,1627.8 L312.5,1627.4 L312.6,1627.0 L312.8,1626.4 L312.9,1625.7 L313.1,1625.0 L313.4,1624.1 L313.6,1623.1 L313.9,1622.0 L314.2,1620.8 L314.6,1619.4 L314.9,1617.9 L315.4,1616.2 L315.8,1614.4 L316.3,1612.4 L316.9,1610.2 L317.5,1607.9 L318.1,1605.4 L318.9,1602.8 L319.6,1600.1 L320.4,1597.2 L321.3,1594.2 L322.3,1591.2 L323.3,1588.0 L324.4,1584.8 L325.5,1581.5 L326.7,1578.1 L328.1,1574.7 L329.5,1571.3 L330.9,1567.9 L332.5,1564.4 L334.2,1560.9 L335.9,1557.5 L337.8,1554.1 L339.7,1550.7 L341.8,1547.3 L344.0,1544.0 L346.2,1540.8 L348.6,1537.6 L351.1,1534.6 L353.8,1531.6 L356.5,1528.7 L359.5,1525.9 L362.6,1523.1 L365.9,1520.5 L369.4,1517.9 L373.1,1515.5 L377.1,1513.1 L381.3,1510.8 L385.8,1508.6 L390.6,1506.5 L395.6,1504.4 L401.0,1502.5 L406.7,1500.6 L412.7,1498.9 L419.1,1497.2 L425.9,1495.6 L433.1,1494.0 L440.6,1492.6 L448.6,1491.3 L457.0,1490.0 L465.9,1488.9 L475.2,1487.8 L485.0,1486.8 L495.2,1485.9 L506.0,1485.0 L517.1,1484.3 L528.7,1483.6 L540.7,1483.0 L553.1,1482.4 L566.0,1481.9 L579.2,1481.5 L592.8,1481.1 L606.8,1480.8 L621.1,1480.5 L635.7,1480.3 L650.7,1480.1 L666.1,1479.9 L681.7,1479.8 L697.6,1479.7 L713.8,1479.6 L730.3,1479.5 L747.1,1479.5 L764.1,1479.5 L781.4,1479.5 L798.9,1479.5 L816.7,1479.5 L834.6,1479.5 L852.7,1479.5 L871.1,1479.5 L889.6,1479.5 L908.3,1479.5 L927.2,1479.5 L946.2,1479.5 L965.4,1479.5 L984.7,1479.5 L1004.2,1479.5 L1023.7,1479.5 L1043.4,1479.5 L1063.2,1479.5 L1083.1,1479.5 L1103.1,1479.5 L1123.2,1479.5 L1143.3,1479.5 L1163.5,1479.5 L1183.8,1479.5 L1204.1,1479.5 L1224.4,1479.5 L1244.8,1479.5 L1265.1,1479.5 L1285.5,1479.5 L1305.9,1479.5 L1326.3,1479.5 L1346.5,1479.5 L1366.7,1479.5 L1386.7,1479.5 L1406.6,1479.5 L1426.2,1479.5 L1445.6,1479.5 L1464.7,1479.5 L1483.5,1479.5 L1501.9,1479.5 L1520.0,1479.5 L1537.6,1479.5 L1554.7,1479.5 L1571.4,1479.5 L1587.5,1479.5 L1603.1,1479.5 L1618.1,1479.5 L1632.4,1479.5 L1646.1,1479.5 L1659.0,1479.5 L1671.2,1479.5 L1682.6,1479.5 L1693.2,1479.5 L1703.0,1479.5 L1712.0,1479.5 L1720.2,1479.5 L1727.6,1479.5 L1734.3,1479.5 L1740.4,1479.5 L1745.8,1479.5 L1750.6,1479.5 L1754.9,1479.5 L1758.6,1479.5 L1761.8,1479.5 L1764.6,1479.5 L1766.9,1479.5 L1768.9,1479.5 L1770.5,1479.5 L1771.8,1479.5 L1772.8,1479.5 L1773.5,1479.5 L1774.1,1479.5 L1774.4,1479.5 L1774.6,1479.5 L1774.7,1479.5 L1774.8,1479.5 L1774.8,1479.5" transform="translate(0.65,0)"/>
<path d="M312.1,1579.2 L312.1,1579.2 L312.1,1579.2 L312.1,1579.1 L312.1,1579.1 L312.1,1579.0 L312.2,1578.9 L312.2,1578.8 L312.3,1578.6 L312.3,1578.3 L312.4,1578.0 L312.5,1577.6 L312.6,1577.1 L312.8,1576.5 L312.9,1575.9 L313.1,1575.1 L313.4,1574.3 L313.6,1573.3 L313.9,1572.2 L314.2,1570.9 L314.6,1569.6 L314.9,1568.0 L315.4,1566.4 L315.8,1564.5 L316.3,1562.6 L316.9,1560.4 L317.5,1558.1 L318.1,1555.6 L318.9,1553.0 L319.6,1550.2 L320.4,1547.4 L321.3,1544.4 L322.3,1541.3 L323.3,1538.2 L324.4,1534.9 L325.5,1531.6 L326.7,1528.3 L328.1,1524.9 L329.5,1521.5 L330.9,1518.0 L332.5,1514.5 L334.2,1511.1 L335.9,1507.6 L337.8,1504.2 L339.7,1500.8 L341.8,1497.5 L344.0,1494.2 L346.2,1490.9 L348.6,1487.8 L351.1,1484.7 L353.8,1481.7 L356.5,1478.8 L359.5,1476.0 L362.6,1473.3 L365.9,1470.6 L369.4,1468.1 L373.1,1465.6 L377.1,1463.2 L381.3,1460.9 L385.8,1458.7 L390.6,1456.6 L395.6,1454.6 L401.0,1452.6 L406.7,1450.8 L412.7,1449.0 L419.1,1447.3 L425.9,1445.7 L433.1,1444.2 L440.6,1442.8 L448.6,1441.4 L457.0,1440.2 L465.9,1439.0 L475.2,1437.9 L485.0,1436.9 L495.2,1436.0 L506.0,1435.2 L517.1,1434.4 L528.7,1433.7 L540.7,1433.1 L553.1,1432.6 L566.0,1432.1 L579.2,1431.6 L592.8,1431.3 L606.8,1430.9 L621.1,1430.6 L635.7,1430.4 L650.7,1430.2 L666.1,1430.0 L681.7,1429.9 L697.6,1429.8 L713.8,1429.7 L730.3,1429.7 L747.1,1429.6 L764.1,1429.6 L781.4,1429.6 L798.9,1429.6 L816.7,1429.6 L834.6,1429.6 L852.7,1429.6 L871.1,1429.6 L889.6,1429.6 L908.3,1429.5 L927.2,1429.5 L946.2,1429.4 L965.4,1429.3 L984.7,1429.2 L1004.2,1429.0 L1023.7,1428.8 L1043.4,1428.6 L1063.2,1428.3 L1083.1,1428.0 L1103.1,1427.6 L1123.2,1427.1 L1143.3,1426.7 L1163.5,1426.1 L1183.8,1425.5 L1204.1,1424.8 L1224.4,1424.0 L1244.8,1423.2 L1265.1,1422.3 L1285.5,1421.3 L1305.9,1420.2 L1326.3,1419.1 L1346.5,1417.8 L1366.7,1416.5 L1386.7,1415.2 L1406.6,1413.8 L1426.2,1412.3 L1445.6,1410.8 L1464.7,1409.3 L1483.5,1407.8 L1501.9,1406.2 L1520.0,1404.7 L1537.6,1403.1 L1554.7,1401.6 L1571.4,1400.0 L1587.5,1398.5 L1603.1,1397.0 L1618.1,1395.6 L1632.4,1394.2 L1646.1,1392.8 L1659.0,1391.5 L1671.2,1390.3 L1682.6,1389.1 L1693.2,1388.1 L1703.0,1387.1 L1712.0,1386.2 L1720.2,1385.3 L1727.6,1384.6 L1734.3,1383.9 L1740.4,1383.3 L1745.8,1382.7 L1750.6,1382.2 L1754.9,1381.8 L1758.6,1381.4 L1761.8,1381.1 L1764.6,1380.8 L1766.9,1380.6 L1768.9,1380.4 L1770.5,1380.2 L1771.8,1380.1 L1772.8,1380.0 L1773.5,1379.9 L1774.1,1379.8 L1774.4,1379.8 L1774.6,1379.8 L1774.7,1379.8 L1774.8,1379.8 L1774.8,1379.8" transform="translate(-0.65,0)"/>
<path d="M312.1,1579.2 L312.1,1579.2 L312.1,1579.2 L312.1,1579.1 L312.1,1579.1 L312.1,1579.0 L312.2,1578.9 L312.2,1578.8 L312.3,1578.6 L312.3,1578.3 L312.4,1578.0 L312.5,1577.6 L312.6,1577.1 L312.8,1576.5 L312.9,1575.9 L313.1,1575.1 L313.4,1574.3 L313.6,1573.3 L313.9,1572.2 L314.2,1570.9 L314.6,1569.6 L314.9,1568.0 L315.4,1566.4 L315.8,1564.5 L316.3,1562.6 L316.9,1560.4 L317.5,1558.1 L318.1,1555.6 L318.9,1553.0 L319.6,1550.2 L320.4,1547.4 L321.3,1544.4 L322.3,1541.3 L323.3,1538.2 L324.4,1534.9 L325.5,1531.6 L326.7,1528.3 L328.1,1524.9 L329.5,1521.5 L330.9,1518.0 L332.5,1514.5 L334.2,1511.1 L335.9,1507.6 L337.8,1504.2 L339.7,1500.8 L341.8,1497.5 L344.0,1494.2 L346.2,1490.9 L348.6,1487.8 L351.1,1484.7 L353.8,1481.7 L356.5,1478.8 L359.5,1476.0 L362.6,1473.3 L365.9,1470.6 L369.4,1468.1 L373.1,1465.6 L377.1,1463.2 L381.3,1460.9 L385.8,1458.7 L390.6,1456.6 L395.6,1454.6 L401.0,1452.6 L406.7,1450.8 L412.7,1449.0 L419.1,1447.3 L425.9,1445.7 L433.1,1444.2 L440.6,1442.8 L448.6,1441.4 L457.0,1440.2 L465.9,1439.0 L475.2,1437.9 L485.0,1436.9 L495.2,1436.0 L506.0,1435.2 L517.1,1434.4 L528.7,1433.7 L540.7,1433.1 L553.1,1432.6 L566.0,1432.1 L579.2,1431.6 L592.8,1431.3 L606.8,1430.9 L621.1,1430.6 L635.7,1430.4 L650.7,1430.2 L666.1,1430.0 L681.7,1429.9 L697.6,1429.8 L713.8,1429.7 L730.3,1429.7 L747.1,1429.6 L764.1,1429.6 L781.4,1429.6 L798.9,1429.6 L816.7,1429.6 L834.6,1429.6 L852.7,1429.6 L871.1,1429.6 L889.6,1429.6 L908.3,1429.5 L927.2,1429.5 L946.2,1429.4 L965.4,1429.3 L984.7,1429.2 L1004.2,1429.0 L1023.7,1428.8 L1043.4,1428.6 L1063.2,1428.3 L1083.1,1428.0 L1103.1,1427.6 L1123.2,1427.1 L1143.3,1426.7 L1163.5,1426.1 L1183.8,1425.5 L1204.1,1424.8 L1224.4,1424.0 L1244.8,1423.2 L1265.1,1422.3 L1285.5,1421.3 L1305.9,1420.2 L1326.3,1419.1 L1346.5,1417.8 L1366.7,1416.5 L1386.7,1415.2 L1406.6,1413.8 L1426.2,1412.3 L1445.6,1410.8 L1464.7,1409.3 L1483.5,1407.8 L1501.9,1406.2 L1520.0,1404.7 L1537.6,1403.1 L1554.7,1401.6 L1571.4,1400.0 L1587.5,1398.5 L1603.1,1397.0 L1618.1,1395.6 L1632.4,1394.2 L1646.1,1392.8 L1659.0,1391.5 L1671.2,1390.3 L1682.6,1389.1 L1693.2,1388.1 L1703.0,1387.1 L1712.0,1386.2 L1720.2,1385.3 L1727.6,1384.6 L1734.3,1383.9 L1740.4,1383.3 L1745.8,1382.7 L1750.6,1382.2 L1754.9,1381.8 L1758.6,1381.4 L1761.8,1381.1 L1764.6,1380.8 L1766.9,1380.6 L1768.9,1380.4 L1770.5,1380.2 L1771.8,1380.1 L1772.8,1380.0 L1773.5,1379.9 L1774.1,1379.8 L1774.4,1379.8 L1774.6,1379.8 L1774.7,1379.8 L1774.8,1379.8 L1774.8,1379.8" transform="translate(0.65,0)"/>
</g>
<g stroke="#000" stroke-width="5.0" stroke-linecap="round">
<line x1="307.00" y1="2327.00" x2="331.25" y2="2327.00"/>
<line x1="307.00" y1="2127.58" x2="331.25" y2="2127.58"/>
<line x1="307.00" y1="1928.16" x2="331.25" y2="1928.16"/>
<line x1="307.00" y1="1728.74" x2="331.25" y2="1728.74"/>
<line x1="307.00" y1="1529.32" x2="331.25" y2="1529.32"/>
<line x1="307.00" y1="2227.29" x2="318.25" y2="2227.29"/>
<line x1="307.00" y1="2027.87" x2="318.25" y2="2027.87"/>
<line x1="307.00" y1="1828.45" x2="318.25" y2="1828.45"/>
<line x1="307.00" y1="1629.03" x2="318.25" y2="1629.03"/>
<line x1="307.00" y1="1429.61" x2="318.25" y2="1429.61"/>
</g>
<g stroke="#000" stroke-width="5.50" stroke-linecap="round">
<line x1="817.65" y1="2377.00" x2="817.65" y2="2352.75"/>
<line x1="1327.30" y1="2377.00" x2="1327.30" y2="2352.75"/>
<line x1="1836.95" y1="2377.00" x2="1836.95" y2="2352.75"/>
<line x1="562.83" y1="2377.00" x2="562.83" y2="2365.75"/>
<line x1="1072.47" y1="2377.00" x2="1072.47" y2="2365.75"/>
<line x1="1582.13" y1="2377.00" x2="1582.13" y2="2365.75"/>
</g>
<g stroke="#000" stroke-linecap="square" fill="none"><line x1="307.00" y1="1329.50" x2="1939.00" y2="1329.50" stroke-width="5.2"/><path d="M307.00,1329.50 V2377.00 H1939.00 V1329.50" stroke-width="5.90" stroke-linejoin="miter"/></g>
<clipPath id="cp1"><rect x="307.00" y="1329.50" width="1632.00" height="1047.50"/></clipPath>
<g fill="#000" clip-path="url(#cp1)">
<rect x="298.40" y="2308.31" width="27.40" height="27.40"/>
<rect x="323.88" y="1944.37" width="27.40" height="27.40"/>
<rect x="415.62" y="1834.69" width="27.40" height="27.40"/>
<rect x="782.56" y="1799.79" width="27.40" height="27.40"/>
<rect x="1271.83" y="1799.79" width="27.40" height="27.40"/>
<rect x="1761.09" y="1764.90" width="27.40" height="27.40"/>
<circle cx="312.10" cy="1629.03" r="15.50"/>
<circle cx="337.58" cy="1529.32" r="15.50"/>
<circle cx="429.32" cy="1479.47" r="15.50"/>
<circle cx="796.26" cy="1479.47" r="15.50"/>
<circle cx="1285.53" cy="1479.47" r="15.50"/>
<circle cx="1774.79" cy="1479.47" r="15.50"/>
<polygon points="312.10,1558.44 293.60,1590.44 330.60,1590.44"/>
<polygon points="337.58,1458.73 319.08,1490.73 356.08,1490.73"/>
<polygon points="429.32,1408.88 410.82,1440.88 447.82,1440.88"/>
<polygon points="796.26,1408.88 777.76,1440.88 814.76,1440.88"/>
<polygon points="1285.53,1408.88 1267.03,1440.88 1304.03,1440.88"/>
<polygon points="1774.79,1359.02 1756.29,1391.02 1793.29,1391.02"/>
</g>
<text class="tk" x="280.5" y="2342.2" text-anchor="end">0.24</text>
<text class="tk" x="280.5" y="2142.8" text-anchor="end">0.28</text>
<text class="tk" x="280.5" y="1943.4" text-anchor="end">0.32</text>
<text class="tk" x="280.5" y="1743.9" text-anchor="end">0.36</text>
<text class="tk" x="280.5" y="1544.5" text-anchor="end">0.40</text>
<text class="tk" x="280.5" y="1343.4" text-anchor="end">0.44</text>
<text class="tk" x="307.8" y="2442.0" text-anchor="middle">0</text>
<text class="tk" x="817.5" y="2442.0" text-anchor="middle">500</text>
<text class="tk" x="1327.1" y="2442.0" text-anchor="middle">1000</text>
<text class="tk" x="1836.8" y="2442.0" text-anchor="middle">1500</text>
<text class="xt" x="1001.8" y="2523.7" font-size="63.0" letter-spacing="0.00">Time (min)</text>
<text class="yt" transform="translate(98.8,0) rotate(-90)" y="0"><tspan x="-2157.8 -2103.4 -2061.0 -2038.0 -1999.6 -1957.4 -1921.8" dy="-0.0 -0.0 -0.0 -0.0 -0.0 -0.0 -0.0" font-size="76.5">Uptake(</tspan><tspan x="-1898.0 -1836.4 -1772.0 -1734.6 -1714.0 -1675.7" dy="-0.0 -0.0 -0.0 -0.0 -0.0 -0.0" font-size="72.0">mmol*g</tspan><tspan x="-1630.4 -1592.5" dy="-22.8 -3.9" font-size="57.0">−1</tspan><tspan x="-1559.4" dy="26.7" font-size="77.0">)</tspan></text>
<text class="lg" x="1917.3" y="2048.2" text-anchor="end" style="font-size:66.5px">Chromate</text>
<line x1="1501.1" y1="2127.5" x2="1644.1" y2="2127.5" stroke="#000" stroke-width="2.20"/>
<g fill="#000"><rect x="1558.20" y="2113.80" width="27.40" height="27.40"/></g>
<text class="lg" x="1662.9" y="2148.7">P-Mt-W</text>
<line x1="1501.1" y1="2212.6" x2="1644.1" y2="2212.6" stroke="#000" stroke-width="2.20"/>
<g fill="#000"><circle cx="1571.90" cy="2212.60" r="15.50"/></g>
<text class="lg" x="1662.9" y="2233.8">P-Mt-C</text>
<line x1="1501.1" y1="2297.6" x2="1644.1" y2="2297.6" stroke="#000" stroke-width="2.20"/>
<g fill="#000"><polygon points="1571.90,2276.97 1553.40,2308.97 1590.40,2308.97"/></g>
<text class="lg" x="1662.9" y="2318.8">P-Mt-J</text>
</g>
<g id="chart3">
<g fill="none" stroke="#000" stroke-width="2.05" stroke-linejoin="round" stroke-linecap="round">
<path d="M312.1,3612.3 L312.1,3612.3 L312.1,3612.3 L312.1,3612.3 L312.1,3612.3 L312.1,3612.2 L312.2,3612.2 L312.2,3612.1 L312.3,3611.9 L312.3,3611.8 L312.4,3611.6 L312.5,3611.3 L312.6,3611.0 L312.8,3610.7 L312.9,3610.3 L313.1,3609.8 L313.4,3609.3 L313.6,3608.7 L313.9,3608.0 L314.2,3607.2 L314.6,3606.4 L314.9,3605.4 L315.4,3604.4 L315.8,3603.3 L316.3,3602.1 L316.9,3600.7 L317.5,3599.3 L318.1,3597.8 L318.9,3596.2 L319.6,3594.5 L320.4,3592.8 L321.3,3591.0 L322.3,3589.1 L323.3,3587.3 L324.4,3585.4 L325.5,3583.4 L326.7,3581.5 L328.1,3579.6 L329.5,3577.7 L330.9,3575.8 L332.5,3573.9 L334.2,3572.1 L335.9,3570.3 L337.8,3568.5 L339.7,3566.9 L341.8,3565.3 L344.0,3563.7 L346.2,3562.3 L348.6,3561.0 L351.1,3559.7 L353.8,3558.6 L356.5,3557.5 L359.5,3556.6 L362.6,3555.6 L365.9,3554.7 L369.4,3553.9 L373.1,3553.0 L377.1,3552.1 L381.3,3551.3 L385.8,3550.4 L390.6,3549.4 L395.6,3548.4 L401.0,3547.4 L406.7,3546.2 L412.7,3545.0 L419.1,3543.7 L425.9,3542.2 L433.1,3540.6 L440.6,3538.9 L448.6,3537.0 L457.0,3534.9 L465.9,3532.6 L475.2,3530.2 L485.0,3527.5 L495.2,3524.6 L506.0,3521.6 L517.1,3518.3 L528.7,3514.9 L540.7,3511.4 L553.1,3507.7 L566.0,3503.9 L579.2,3500.0 L592.8,3496.0 L606.8,3492.0 L621.1,3487.8 L635.7,3483.6 L650.7,3479.4 L666.1,3475.1 L681.7,3470.8 L697.6,3466.6 L713.8,3462.3 L730.3,3458.1 L747.1,3453.9 L764.1,3449.7 L781.4,3445.6 L798.9,3441.6 L816.7,3437.7 L834.6,3433.9 L852.7,3430.3 L871.1,3426.7 L889.6,3423.2 L908.3,3419.8 L927.2,3416.6 L946.2,3413.4 L965.4,3410.4 L984.7,3407.4 L1004.2,3404.6 L1023.7,3401.9 L1043.4,3399.2 L1063.2,3396.7 L1083.1,3394.3 L1103.1,3392.0 L1123.2,3389.8 L1143.3,3387.7 L1163.5,3385.8 L1183.8,3383.9 L1204.1,3382.1 L1224.4,3380.5 L1244.8,3378.9 L1265.1,3377.5 L1285.5,3376.1 L1305.9,3374.9 L1326.3,3373.8 L1346.5,3372.7 L1366.7,3371.8 L1386.7,3371.0 L1406.6,3370.2 L1426.2,3369.5 L1445.6,3368.9 L1464.7,3368.4 L1483.5,3367.9 L1501.9,3367.5 L1520.0,3367.1 L1537.6,3366.8 L1554.7,3366.6 L1571.4,3366.4 L1587.5,3366.2 L1603.1,3366.1 L1618.1,3366.0 L1632.4,3366.0 L1646.1,3365.9 L1659.0,3365.9 L1671.2,3365.9 L1682.6,3365.9 L1693.2,3365.9 L1703.0,3365.9 L1712.0,3365.9 L1720.2,3365.9 L1727.6,3365.9 L1734.3,3365.9 L1740.4,3365.9 L1745.8,3365.9 L1750.6,3365.9 L1754.9,3365.9 L1758.6,3365.9 L1761.8,3365.9 L1764.6,3365.9 L1766.9,3365.9 L1768.9,3365.9 L1770.5,3365.9 L1771.8,3365.9 L1772.8,3365.9 L1773.5,3365.9 L1774.1,3365.9 L1774.4,3365.9 L1774.6,3365.9 L1774.7,3365.9 L1774.8,3365.9 L1774.8,3365.9" transform="translate(-0.65,0)"/>
<path d="M312.1,3612.3 L312.1,3612.3 L312.1,3612.3 L312.1,3612.3 L312.1,3612.3 L312.1,3612.2 L312.2,3612.2 L312.2,3612.1 L312.3,3611.9 L312.3,3611.8 L312.4,3611.6 L312.5,3611.3 L312.6,3611.0 L312.8,3610.7 L312.9,3610.3 L313.1,3609.8 L313.4,3609.3 L313.6,3608.7 L313.9,3608.0 L314.2,3607.2 L314.6,3606.4 L314.9,3605.4 L315.4,3604.4 L315.8,3603.3 L316.3,3602.1 L316.9,3600.7 L317.5,3599.3 L318.1,3597.8 L318.9,3596.2 L319.6,3594.5 L320.4,3592.8 L321.3,3591.0 L322.3,3589.1 L323.3,3587.3 L324.4,3585.4 L325.5,3583.4 L326.7,3581.5 L328.1,3579.6 L329.5,3577.7 L330.9,3575.8 L332.5,3573.9 L334.2,3572.1 L335.9,3570.3 L337.8,3568.5 L339.7,3566.9 L341.8,3565.3 L344.0,3563.7 L346.2,3562.3 L348.6,3561.0 L351.1,3559.7 L353.8,3558.6 L356.5,3557.5 L359.5,3556.6 L362.6,3555.6 L365.9,3554.7 L369.4,3553.9 L373.1,3553.0 L377.1,3552.1 L381.3,3551.3 L385.8,3550.4 L390.6,3549.4 L395.6,3548.4 L401.0,3547.4 L406.7,3546.2 L412.7,3545.0 L419.1,3543.7 L425.9,3542.2 L433.1,3540.6 L440.6,3538.9 L448.6,3537.0 L457.0,3534.9 L465.9,3532.6 L475.2,3530.2 L485.0,3527.5 L495.2,3524.6 L506.0,3521.6 L517.1,3518.3 L528.7,3514.9 L540.7,3511.4 L553.1,3507.7 L566.0,3503.9 L579.2,3500.0 L592.8,3496.0 L606.8,3492.0 L621.1,3487.8 L635.7,3483.6 L650.7,3479.4 L666.1,3475.1 L681.7,3470.8 L697.6,3466.6 L713.8,3462.3 L730.3,3458.1 L747.1,3453.9 L764.1,3449.7 L781.4,3445.6 L798.9,3441.6 L816.7,3437.7 L834.6,3433.9 L852.7,3430.3 L871.1,3426.7 L889.6,3423.2 L908.3,3419.8 L927.2,3416.6 L946.2,3413.4 L965.4,3410.4 L984.7,3407.4 L1004.2,3404.6 L1023.7,3401.9 L1043.4,3399.2 L1063.2,3396.7 L1083.1,3394.3 L1103.1,3392.0 L1123.2,3389.8 L1143.3,3387.7 L1163.5,3385.8 L1183.8,3383.9 L1204.1,3382.1 L1224.4,3380.5 L1244.8,3378.9 L1265.1,3377.5 L1285.5,3376.1 L1305.9,3374.9 L1326.3,3373.8 L1346.5,3372.7 L1366.7,3371.8 L1386.7,3371.0 L1406.6,3370.2 L1426.2,3369.5 L1445.6,3368.9 L1464.7,3368.4 L1483.5,3367.9 L1501.9,3367.5 L1520.0,3367.1 L1537.6,3366.8 L1554.7,3366.6 L1571.4,3366.4 L1587.5,3366.2 L1603.1,3366.1 L1618.1,3366.0 L1632.4,3366.0 L1646.1,3365.9 L1659.0,3365.9 L1671.2,3365.9 L1682.6,3365.9 L1693.2,3365.9 L1703.0,3365.9 L1712.0,3365.9 L1720.2,3365.9 L1727.6,3365.9 L1734.3,3365.9 L1740.4,3365.9 L1745.8,3365.9 L1750.6,3365.9 L1754.9,3365.9 L1758.6,3365.9 L1761.8,3365.9 L1764.6,3365.9 L1766.9,3365.9 L1768.9,3365.9 L1770.5,3365.9 L1771.8,3365.9 L1772.8,3365.9 L1773.5,3365.9 L1774.1,3365.9 L1774.4,3365.9 L1774.6,3365.9 L1774.7,3365.9 L1774.8,3365.9 L1774.8,3365.9" transform="translate(0.65,0)"/>
<path d="M312.1,3304.2 L312.1,3304.2 L312.1,3304.2 L312.1,3304.2 L312.1,3304.2 L312.1,3304.1 L312.2,3304.1 L312.2,3304.0 L312.3,3303.9 L312.3,3303.7 L312.4,3303.5 L312.5,3303.3 L312.6,3303.0 L312.8,3302.6 L312.9,3302.2 L313.1,3301.7 L313.4,3301.2 L313.6,3300.6 L313.9,3299.9 L314.2,3299.1 L314.6,3298.3 L314.9,3297.4 L315.4,3296.3 L315.8,3295.2 L316.3,3294.0 L316.9,3292.6 L317.5,3291.2 L318.1,3289.6 L318.9,3288.0 L319.6,3286.2 L320.4,3284.3 L321.3,3282.4 L322.3,3280.3 L323.3,3278.1 L324.4,3275.8 L325.5,3273.4 L326.7,3270.9 L328.1,3268.2 L329.5,3265.5 L330.9,3262.7 L332.5,3259.7 L334.2,3256.7 L335.9,3253.5 L337.8,3250.3 L339.7,3246.9 L341.8,3243.4 L344.0,3239.8 L346.2,3236.2 L348.6,3232.4 L351.1,3228.5 L353.8,3224.5 L356.5,3220.4 L359.5,3216.2 L362.6,3212.0 L365.9,3207.8 L369.4,3203.5 L373.1,3199.3 L377.1,3195.0 L381.3,3190.7 L385.8,3186.5 L390.6,3182.3 L395.6,3178.1 L401.0,3174.1 L406.7,3170.1 L412.7,3166.2 L419.1,3162.4 L425.9,3158.7 L433.1,3155.2 L440.6,3151.8 L448.6,3148.5 L457.0,3145.5 L465.9,3142.6 L475.2,3139.9 L485.0,3137.5 L495.2,3135.2 L506.0,3133.1 L517.1,3131.3 L528.7,3129.6 L540.7,3128.1 L553.1,3126.7 L566.0,3125.5 L579.2,3124.4 L592.8,3123.5 L606.8,3122.7 L621.1,3122.0 L635.7,3121.4 L650.7,3120.9 L666.1,3120.5 L681.7,3120.1 L697.6,3119.9 L713.8,3119.7 L730.3,3119.6 L747.1,3119.5 L764.1,3119.4 L781.4,3119.4 L798.9,3119.4 L816.7,3119.4 L834.6,3119.4 L852.7,3119.4 L871.1,3119.4 L889.6,3119.3 L908.3,3119.3 L927.2,3119.2 L946.2,3119.1 L965.4,3119.0 L984.7,3118.8 L1004.2,3118.6 L1023.7,3118.4 L1043.4,3118.1 L1063.2,3117.8 L1083.1,3117.3 L1103.1,3116.9 L1123.2,3116.3 L1143.3,3115.7 L1163.5,3115.1 L1183.8,3114.3 L1204.1,3113.4 L1224.4,3112.5 L1244.8,3111.5 L1265.1,3110.3 L1285.5,3109.1 L1305.9,3107.8 L1326.3,3106.3 L1346.5,3104.8 L1366.7,3103.2 L1386.7,3101.5 L1406.6,3099.8 L1426.2,3098.0 L1445.6,3096.2 L1464.7,3094.3 L1483.5,3092.4 L1501.9,3090.5 L1520.0,3088.6 L1537.6,3086.7 L1554.7,3084.7 L1571.4,3082.8 L1587.5,3081.0 L1603.1,3079.1 L1618.1,3077.3 L1632.4,3075.6 L1646.1,3073.9 L1659.0,3072.3 L1671.2,3070.8 L1682.6,3069.4 L1693.2,3068.0 L1703.0,3066.8 L1712.0,3065.7 L1720.2,3064.6 L1727.6,3063.7 L1734.3,3062.9 L1740.4,3062.1 L1745.8,3061.4 L1750.6,3060.8 L1754.9,3060.3 L1758.6,3059.8 L1761.8,3059.4 L1764.6,3059.1 L1766.9,3058.8 L1768.9,3058.5 L1770.5,3058.3 L1771.8,3058.2 L1772.8,3058.0 L1773.5,3057.9 L1774.1,3057.9 L1774.4,3057.8 L1774.6,3057.8 L1774.7,3057.8 L1774.8,3057.8 L1774.8,3057.8" transform="translate(-0.65,0)"/>
<path d="M312.1,3304.2 L312.1,3304.2 L312.1,3304.2 L312.1,3304.2 L312.1,3304.2 L312.1,3304.1 L312.2,3304.1 L312.2,3304.0 L312.3,3303.9 L312.3,3303.7 L312.4,3303.5 L312.5,3303.3 L312.6,3303.0 L312.8,3302.6 L312.9,3302.2 L313.1,3301.7 L313.4,3301.2 L313.6,3300.6 L313.9,3299.9 L314.2,3299.1 L314.6,3298.3 L314.9,3297.4 L315.4,3296.3 L315.8,3295.2 L316.3,3294.0 L316.9,3292.6 L317.5,3291.2 L318.1,3289.6 L318.9,3288.0 L319.6,3286.2 L320.4,3284.3 L321.3,3282.4 L322.3,3280.3 L323.3,3278.1 L324.4,3275.8 L325.5,3273.4 L326.7,3270.9 L328.1,3268.2 L329.5,3265.5 L330.9,3262.7 L332.5,3259.7 L334.2,3256.7 L335.9,3253.5 L337.8,3250.3 L339.7,3246.9 L341.8,3243.4 L344.0,3239.8 L346.2,3236.2 L348.6,3232.4 L351.1,3228.5 L353.8,3224.5 L356.5,3220.4 L359.5,3216.2 L362.6,3212.0 L365.9,3207.8 L369.4,3203.5 L373.1,3199.3 L377.1,3195.0 L381.3,3190.7 L385.8,3186.5 L390.6,3182.3 L395.6,3178.1 L401.0,3174.1 L406.7,3170.1 L412.7,3166.2 L419.1,3162.4 L425.9,3158.7 L433.1,3155.2 L440.6,3151.8 L448.6,3148.5 L457.0,3145.5 L465.9,3142.6 L475.2,3139.9 L485.0,3137.5 L495.2,3135.2 L506.0,3133.1 L517.1,3131.3 L528.7,3129.6 L540.7,3128.1 L553.1,3126.7 L566.0,3125.5 L579.2,3124.4 L592.8,3123.5 L606.8,3122.7 L621.1,3122.0 L635.7,3121.4 L650.7,3120.9 L666.1,3120.5 L681.7,3120.1 L697.6,3119.9 L713.8,3119.7 L730.3,3119.6 L747.1,3119.5 L764.1,3119.4 L781.4,3119.4 L798.9,3119.4 L816.7,3119.4 L834.6,3119.4 L852.7,3119.4 L871.1,3119.4 L889.6,3119.3 L908.3,3119.3 L927.2,3119.2 L946.2,3119.1 L965.4,3119.0 L984.7,3118.8 L1004.2,3118.6 L1023.7,3118.4 L1043.4,3118.1 L1063.2,3117.8 L1083.1,3117.3 L1103.1,3116.9 L1123.2,3116.3 L1143.3,3115.7 L1163.5,3115.1 L1183.8,3114.3 L1204.1,3113.4 L1224.4,3112.5 L1244.8,3111.5 L1265.1,3110.3 L1285.5,3109.1 L1305.9,3107.8 L1326.3,3106.3 L1346.5,3104.8 L1366.7,3103.2 L1386.7,3101.5 L1406.6,3099.8 L1426.2,3098.0 L1445.6,3096.2 L1464.7,3094.3 L1483.5,3092.4 L1501.9,3090.5 L1520.0,3088.6 L1537.6,3086.7 L1554.7,3084.7 L1571.4,3082.8 L1587.5,3081.0 L1603.1,3079.1 L1618.1,3077.3 L1632.4,3075.6 L1646.1,3073.9 L1659.0,3072.3 L1671.2,3070.8 L1682.6,3069.4 L1693.2,3068.0 L1703.0,3066.8 L1712.0,3065.7 L1720.2,3064.6 L1727.6,3063.7 L1734.3,3062.9 L1740.4,3062.1 L1745.8,3061.4 L1750.6,3060.8 L1754.9,3060.3 L1758.6,3059.8 L1761.8,3059.4 L1764.6,3059.1 L1766.9,3058.8 L1768.9,3058.5 L1770.5,3058.3 L1771.8,3058.2 L1772.8,3058.0 L1773.5,3057.9 L1774.1,3057.9 L1774.4,3057.8 L1774.6,3057.8 L1774.7,3057.8 L1774.8,3057.8 L1774.8,3057.8" transform="translate(0.65,0)"/>
<path d="M312.1,3242.6 L312.1,3242.6 L312.1,3242.6 L312.1,3242.5 L312.1,3242.4 L312.1,3242.2 L312.2,3241.9 L312.2,3241.6 L312.3,3241.0 L312.3,3240.3 L312.4,3239.5 L312.5,3238.5 L312.6,3237.2 L312.8,3235.8 L312.9,3234.1 L313.1,3232.1 L313.4,3229.8 L313.6,3227.3 L313.9,3224.4 L314.2,3221.2 L314.6,3217.7 L314.9,3213.7 L315.4,3209.4 L315.8,3204.7 L316.3,3199.5 L316.9,3193.9 L317.5,3187.8 L318.1,3181.4 L318.9,3174.6 L319.6,3167.4 L320.4,3160.0 L321.3,3152.2 L322.3,3144.1 L323.3,3135.9 L324.4,3127.3 L325.5,3118.6 L326.7,3109.8 L328.1,3100.7 L329.5,3091.6 L330.9,3082.4 L332.5,3073.1 L334.2,3063.7 L335.9,3054.4 L337.8,3045.0 L339.7,3035.7 L341.8,3026.4 L344.0,3017.2 L346.2,3008.2 L348.6,2999.2 L351.1,2990.5 L353.8,2981.8 L356.5,2973.4 L359.5,2965.1 L362.6,2957.0 L365.9,2949.1 L369.4,2941.4 L373.1,2933.9 L377.1,2926.5 L381.3,2919.3 L385.8,2912.4 L390.6,2905.7 L395.6,2899.1 L401.0,2892.8 L406.7,2886.7 L412.7,2880.8 L419.1,2875.1 L425.9,2869.7 L433.1,2864.5 L440.6,2859.5 L448.6,2854.8 L457.0,2850.3 L465.9,2846.1 L475.2,2842.1 L485.0,2838.4 L495.2,2834.9 L506.0,2831.7 L517.1,2828.6 L528.7,2825.8 L540.7,2823.2 L553.1,2820.7 L566.0,2818.5 L579.2,2816.3 L592.8,2814.4 L606.8,2812.5 L621.1,2810.8 L635.7,2809.2 L650.7,2807.6 L666.1,2806.2 L681.7,2804.8 L697.6,2803.5 L713.8,2802.2 L730.3,2801.0 L747.1,2799.8 L764.1,2798.6 L781.4,2797.4 L798.9,2796.1 L816.7,2794.9 L834.6,2793.6 L852.7,2792.2 L871.1,2790.8 L889.6,2789.4 L908.3,2787.9 L927.2,2786.4 L946.2,2784.9 L965.4,2783.3 L984.7,2781.6 L1004.2,2780.0 L1023.7,2778.3 L1043.4,2776.5 L1063.2,2774.7 L1083.1,2772.9 L1103.1,2771.1 L1123.2,2769.2 L1143.3,2767.2 L1163.5,2765.3 L1183.8,2763.3 L1204.1,2761.2 L1224.4,2759.2 L1244.8,2757.1 L1265.1,2754.9 L1285.5,2752.8 L1305.9,2750.6 L1326.3,2748.3 L1346.5,2746.1 L1366.7,2743.8 L1386.7,2741.6 L1406.6,2739.3 L1426.2,2737.0 L1445.6,2734.8 L1464.7,2732.5 L1483.5,2730.3 L1501.9,2728.1 L1520.0,2725.9 L1537.6,2723.8 L1554.7,2721.7 L1571.4,2719.7 L1587.5,2717.7 L1603.1,2715.8 L1618.1,2713.9 L1632.4,2712.1 L1646.1,2710.4 L1659.0,2708.8 L1671.2,2707.3 L1682.6,2705.8 L1693.2,2704.5 L1703.0,2703.3 L1712.0,2702.1 L1720.2,2701.1 L1727.6,2700.2 L1734.3,2699.3 L1740.4,2698.6 L1745.8,2697.9 L1750.6,2697.3 L1754.9,2696.7 L1758.6,2696.3 L1761.8,2695.9 L1764.6,2695.5 L1766.9,2695.2 L1768.9,2695.0 L1770.5,2694.8 L1771.8,2694.6 L1772.8,2694.5 L1773.5,2694.4 L1774.1,2694.3 L1774.4,2694.3 L1774.6,2694.2 L1774.7,2694.2 L1774.8,2694.2 L1774.8,2694.2" transform="translate(-0.65,0)"/>
<path d="M312.1,3242.6 L312.1,3242.6 L312.1,3242.6 L312.1,3242.5 L312.1,3242.4 L312.1,3242.2 L312.2,3241.9 L312.2,3241.6 L312.3,3241.0 L312.3,3240.3 L312.4,3239.5 L312.5,3238.5 L312.6,3237.2 L312.8,3235.8 L312.9,3234.1 L313.1,3232.1 L313.4,3229.8 L313.6,3227.3 L313.9,3224.4 L314.2,3221.2 L314.6,3217.7 L314.9,3213.7 L315.4,3209.4 L315.8,3204.7 L316.3,3199.5 L316.9,3193.9 L317.5,3187.8 L318.1,3181.4 L318.9,3174.6 L319.6,3167.4 L320.4,3160.0 L321.3,3152.2 L322.3,3144.1 L323.3,3135.9 L324.4,3127.3 L325.5,3118.6 L326.7,3109.8 L328.1,3100.7 L329.5,3091.6 L330.9,3082.4 L332.5,3073.1 L334.2,3063.7 L335.9,3054.4 L337.8,3045.0 L339.7,3035.7 L341.8,3026.4 L344.0,3017.2 L346.2,3008.2 L348.6,2999.2 L351.1,2990.5 L353.8,2981.8 L356.5,2973.4 L359.5,2965.1 L362.6,2957.0 L365.9,2949.1 L369.4,2941.4 L373.1,2933.9 L377.1,2926.5 L381.3,2919.3 L385.8,2912.4 L390.6,2905.7 L395.6,2899.1 L401.0,2892.8 L406.7,2886.7 L412.7,2880.8 L419.1,2875.1 L425.9,2869.7 L433.1,2864.5 L440.6,2859.5 L448.6,2854.8 L457.0,2850.3 L465.9,2846.1 L475.2,2842.1 L485.0,2838.4 L495.2,2834.9 L506.0,2831.7 L517.1,2828.6 L528.7,2825.8 L540.7,2823.2 L553.1,2820.7 L566.0,2818.5 L579.2,2816.3 L592.8,2814.4 L606.8,2812.5 L621.1,2810.8 L635.7,2809.2 L650.7,2807.6 L666.1,2806.2 L681.7,2804.8 L697.6,2803.5 L713.8,2802.2 L730.3,2801.0 L747.1,2799.8 L764.1,2798.6 L781.4,2797.4 L798.9,2796.1 L816.7,2794.9 L834.6,2793.6 L852.7,2792.2 L871.1,2790.8 L889.6,2789.4 L908.3,2787.9 L927.2,2786.4 L946.2,2784.9 L965.4,2783.3 L984.7,2781.6 L1004.2,2780.0 L1023.7,2778.3 L1043.4,2776.5 L1063.2,2774.7 L1083.1,2772.9 L1103.1,2771.1 L1123.2,2769.2 L1143.3,2767.2 L1163.5,2765.3 L1183.8,2763.3 L1204.1,2761.2 L1224.4,2759.2 L1244.8,2757.1 L1265.1,2754.9 L1285.5,2752.8 L1305.9,2750.6 L1326.3,2748.3 L1346.5,2746.1 L1366.7,2743.8 L1386.7,2741.6 L1406.6,2739.3 L1426.2,2737.0 L1445.6,2734.8 L1464.7,2732.5 L1483.5,2730.3 L1501.9,2728.1 L1520.0,2725.9 L1537.6,2723.8 L1554.7,2721.7 L1571.4,2719.7 L1587.5,2717.7 L1603.1,2715.8 L1618.1,2713.9 L1632.4,2712.1 L1646.1,2710.4 L1659.0,2708.8 L1671.2,2707.3 L1682.6,2705.8 L1693.2,2704.5 L1703.0,2703.3 L1712.0,2702.1 L1720.2,2701.1 L1727.6,2700.2 L1734.3,2699.3 L1740.4,2698.6 L1745.8,2697.9 L1750.6,2697.3 L1754.9,2696.7 L1758.6,2696.3 L1761.8,2695.9 L1764.6,2695.5 L1766.9,2695.2 L1768.9,2695.0 L1770.5,2694.8 L1771.8,2694.6 L1772.8,2694.5 L1773.5,2694.4 L1774.1,2694.3 L1774.4,2694.3 L1774.6,2694.2 L1774.7,2694.2 L1774.8,2694.2 L1774.8,2694.2" transform="translate(0.65,0)"/>
</g>
<g stroke="#000" stroke-width="5.0" stroke-linecap="round">
<line x1="307.00" y1="3550.71" x2="331.25" y2="3550.71"/>
<line x1="307.00" y1="3304.24" x2="331.25" y2="3304.24"/>
<line x1="307.00" y1="3057.77" x2="331.25" y2="3057.77"/>
<line x1="307.00" y1="2811.30" x2="331.25" y2="2811.30"/>
<line x1="307.00" y1="3673.95" x2="318.25" y2="3673.95"/>
<line x1="307.00" y1="3427.48" x2="318.25" y2="3427.48"/>
<line x1="307.00" y1="3181.01" x2="318.25" y2="3181.01"/>
<line x1="307.00" y1="2934.54" x2="318.25" y2="2934.54"/>
<line x1="307.00" y1="2688.07" x2="318.25" y2="2688.07"/>
</g>
<g stroke="#000" stroke-width="5.50" stroke-linecap="round">
<line x1="817.65" y1="3674.00" x2="817.65" y2="3649.75"/>
<line x1="1327.30" y1="3674.00" x2="1327.30" y2="3649.75"/>
<line x1="1836.95" y1="3674.00" x2="1836.95" y2="3649.75"/>
<line x1="562.83" y1="3674.00" x2="562.83" y2="3662.75"/>
<line x1="1072.47" y1="3674.00" x2="1072.47" y2="3662.75"/>
<line x1="1582.13" y1="3674.00" x2="1582.13" y2="3662.75"/>
</g>
<g stroke="#000" stroke-linecap="square" fill="none"><line x1="307.00" y1="2626.50" x2="1939.00" y2="2626.50" stroke-width="5.2"/><path d="M307.00,2626.50 V3674.00 H1939.00 V2626.50" stroke-width="5.90" stroke-linejoin="miter"/></g>
<clipPath id="cp2"><rect x="307.00" y="2626.50" width="1632.00" height="1047.50"/></clipPath>
<g fill="#000" clip-path="url(#cp2)">
<rect x="298.40" y="3598.63" width="27.40" height="27.40"/>
<rect x="323.88" y="3537.01" width="27.40" height="27.40"/>
<rect x="415.62" y="3537.01" width="27.40" height="27.40"/>
<rect x="782.56" y="3413.78" width="27.40" height="27.40"/>
<rect x="1271.83" y="3352.16" width="27.40" height="27.40"/>
<rect x="1761.09" y="3352.16" width="27.40" height="27.40"/>
<circle cx="312.10" cy="3304.24" r="15.50"/>
<circle cx="337.58" cy="3242.62" r="15.50"/>
<circle cx="429.32" cy="3119.39" r="15.50"/>
<circle cx="796.26" cy="3119.39" r="15.50"/>
<circle cx="1285.53" cy="3119.39" r="15.50"/>
<circle cx="1774.79" cy="3057.77" r="15.50"/>
<polygon points="312.10,3221.29 293.60,3253.29 330.60,3253.29"/>
<polygon points="337.58,2962.50 319.08,2994.50 356.08,2994.50"/>
<polygon points="429.32,2796.13 410.82,2828.13 447.82,2828.13"/>
<polygon points="796.26,2777.64 777.76,2809.64 814.76,2809.64"/>
<polygon points="1285.53,2734.51 1267.03,2766.51 1304.03,2766.51"/>
<polygon points="1774.79,2672.89 1756.29,2704.89 1793.29,2704.89"/>
</g>
<text class="tk" x="280.5" y="3565.9" text-anchor="end">0.16</text>
<text class="tk" x="280.5" y="3319.4" text-anchor="end">0.20</text>
<text class="tk" x="280.5" y="3073.0" text-anchor="end">0.24</text>
<text class="tk" x="280.5" y="2826.5" text-anchor="end">0.28</text>
<text class="tk" x="307.8" y="3739.0" text-anchor="middle">0</text>
<text class="tk" x="817.5" y="3739.0" text-anchor="middle">500</text>
<text class="tk" x="1327.1" y="3739.0" text-anchor="middle">1000</text>
<text class="tk" x="1836.8" y="3739.0" text-anchor="middle">1500</text>
<text class="xt" x="954.9" y="3810.3" font-size="67.0" letter-spacing="1.00">Time (min)</text>
<text class="yt" transform="translate(101.3,0) rotate(-90)" y="0"><tspan x="-3466.0 -3411.6 -3369.2 -3346.2 -3307.8 -3265.6 -3230.0" dy="-0.0 -0.0 -0.0 -0.0 -0.0 -0.0 -0.0" font-size="76.5">Uptake(</tspan><tspan x="-3206.2 -3144.6 -3080.2 -3042.8 -3022.2 -2983.9" dy="-0.0 -0.0 -0.0 -0.0 -0.0 -0.0" font-size="72.0">mmol*g</tspan><tspan x="-2938.6 -2900.7" dy="-22.8 -3.9" font-size="57.0">−1</tspan><tspan x="-2867.6" dy="26.7" font-size="77.0">)</tspan></text>
<text class="lg" x="1912.8" y="3339.7" text-anchor="end" style="font-size:66.5px">Nitrate</text>
<line x1="1504.9" y1="3445.6" x2="1647.9" y2="3445.6" stroke="#000" stroke-width="2.20"/>
<g fill="#000"><rect x="1562.90" y="3431.90" width="27.40" height="27.40"/></g>
<text class="lg" x="1666.7" y="3466.8">P-Mt-W</text>
<line x1="1504.9" y1="3530.5" x2="1647.9" y2="3530.5" stroke="#000" stroke-width="2.20"/>
<g fill="#000"><circle cx="1576.60" cy="3530.50" r="15.50"/></g>
<text class="lg" x="1666.7" y="3551.7">P-Mt-C</text>
<line x1="1504.9" y1="3615.3" x2="1647.9" y2="3615.3" stroke="#000" stroke-width="2.20"/>
<g fill="#000"><polygon points="1576.60,3594.67 1558.10,3626.67 1595.10,3626.67"/></g>
<text class="lg" x="1666.7" y="3636.5">P-Mt-J</text>
</g>
</svg></body></html>
